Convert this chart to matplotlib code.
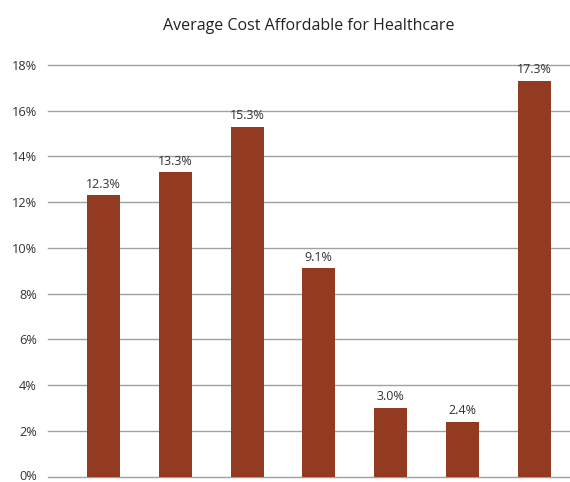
import matplotlib
matplotlib.use("Agg")
import matplotlib.pyplot as plt
import matplotlib.transforms as mtransforms
from matplotlib.ticker import FuncFormatter

plt.rcParams['font.family'] = ['Open Sans', 'DejaVu Sans']

categories = ["A", "B", "C", "D", "E", "F", "G"]
values = [12.3, 13.3, 15.3, 9.1, 3.0, 2.4, 17.3]
yticks = [0, 2, 4, 6, 8, 10, 12, 14, 16, 18]
title = "Average Cost Affordable for Healthcare"

fig = plt.figure(figsize=(5.7, 4.82), dpi=100)
ax = fig.add_axes([48/570, 1-476.5/482, 1-48/570, (476.5-65)/482])

x = list(range(len(categories)))
bars = ax.bar(x, values, width=0.46, color="#933B20", zorder=3)
for xi, v in zip(x, values):
    ax.text(xi, v + 0.2, f"{v:.1f}%", ha="center", va="bottom", fontsize=9, color="#333333")

ax.set_ylim(0, 18)
ax.set_xlim(-0.773, 6.5)
ax.set_yticks(yticks)
ax.yaxis.set_major_formatter(FuncFormatter(lambda v, p: f"{int(v)}%"))
ax.set_xticks([])
ax.grid(axis="y", color="#A0A0A0", linewidth=1.0, zorder=0)
for gl in ax.get_ygridlines():
    gl.set_clip_on(False)
for s in ax.spines.values():
    s.set_visible(False)
ax.tick_params(axis="y", length=0, labelsize=9.2, labelcolor="#333333", pad=8)
ax.set_title(title, fontsize=11.5, color="#222222", pad=25)

# nudge the 0% label up slightly so it stays inside the image
lab0 = ax.get_yticklabels()[0]
lab0.set_transform(lab0.get_transform() + mtransforms.ScaledTranslation(0, 2/100, fig.dpi_scale_trans))

fig.savefig("out.png", dpi=100)
